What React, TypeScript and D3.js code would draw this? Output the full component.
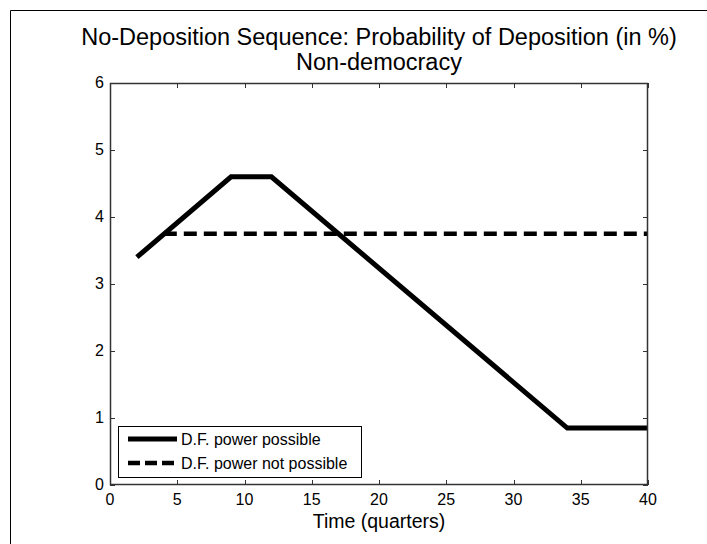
import React, { useEffect, useRef } from 'react';
import * as d3 from 'd3';

// solid series vertices (quarter, %)
const possibleX = [2, 9, 12, 34, 40];
const possibleY = [3.4, 4.6, 4.6, 0.85, 0.85];
// dashed series
const notPossibleX = [4, 40];
const notPossibleY = [3.75, 3.75];

const xTicks = [0, 5, 10, 15, 20, 25, 30, 35, 40];
const yTicks = [0, 1, 2, 3, 4, 5, 6];
const legendLabels = ['D.F. power possible', 'D.F. power not possible'];

const App: React.FC = () => {
    const svgRef = useRef<SVGSVGElement | null>(null);

    useEffect(() => {
        const width = 707;
        const height = 544;
        const margin = { top: 83, right: 59, bottom: 59, left: 110 };
        const font = 'Liberation Sans, Arial, sans-serif';
        const axisColor = '#333';

        const svg = d3.select(svgRef.current)
            .attr('width', width)
            .attr('height', height);
        svg.selectAll('*').remove();

        // outer figure frame
        svg.append('path')
            .attr('d', `M${width},10.5 H10.5 V${height}`)
            .attr('fill', 'none')
            .attr('stroke', '#000')
            .attr('stroke-width', 1);

        const xScale = d3.scaleLinear()
            .domain([0, 40])
            .range([margin.left, width - margin.right]);
        const yScale = d3.scaleLinear()
            .domain([0, 6])
            .range([height - margin.bottom, margin.top]);

        const x0 = xScale(0), x1 = xScale(40), y0 = yScale(0), y1 = yScale(6);

        // ticks on all four sides, pointing inward
        const tickLen = 5;
        const ticks = svg.append('g').attr('stroke', axisColor).attr('stroke-width', 1);
        xTicks.forEach(t => {
            const x = Math.round(xScale(t)) + 0.5;
            ticks.append('line').attr('x1', x).attr('x2', x).attr('y1', y0).attr('y2', y0 - tickLen);
            ticks.append('line').attr('x1', x).attr('x2', x).attr('y1', y1).attr('y2', y1 + tickLen);
        });
        yTicks.forEach(t => {
            const y = Math.round(yScale(t)) + 0.5;
            ticks.append('line').attr('x1', x0).attr('x2', x0 + tickLen).attr('y1', y).attr('y2', y);
            ticks.append('line').attr('x1', x1).attr('x2', x1 - tickLen).attr('y1', y).attr('y2', y);
        });

        // tick labels
        svg.append('g').selectAll('text')
            .data(xTicks)
            .join('text')
            .attr('x', d => xScale(d))
            .attr('y', y0 + 20)
            .attr('text-anchor', 'middle')
            .attr('font-family', font)
            .attr('font-size', 16)
            .attr('fill', '#000')
            .text(d => d);
        svg.append('g').selectAll('text')
            .data(yTicks)
            .join('text')
            .attr('x', x0 - 6)
            .attr('y', d => yScale(d) + 5)
            .attr('text-anchor', 'end')
            .attr('font-family', font)
            .attr('font-size', 16)
            .attr('fill', '#000')
            .text(d => d);

        // lines
        const line = d3.line<[number, number]>()
            .x(d => xScale(d[0]))
            .y(d => yScale(d[1]));

        svg.append('path')
            .datum(notPossibleX.map((x, i) => [x, notPossibleY[i]] as [number, number]))
            .attr('fill', 'none')
            .attr('stroke', '#000')
            .attr('stroke-width', 4.5)
            .attr('stroke-dasharray', '13,7')
            .attr('d', line);

        svg.append('path')
            .datum(possibleX.map((x, i) => [x, possibleY[i]] as [number, number]))
            .attr('fill', 'none')
            .attr('stroke', '#000')
            .attr('stroke-width', 5)
            .attr('stroke-linejoin', 'miter')
            .attr('d', line);

        // plot box
        svg.append('rect')
            .attr('x', x0 + 0.5)
            .attr('y', y1 + 0.5)
            .attr('width', x1 - x0 - 1)
            .attr('height', y0 - y1 - 1)
            .attr('fill', 'none')
            .attr('stroke', axisColor)
            .attr('stroke-width', 1.5);

        // legend
        const lg = svg.append('g').attr('transform', 'translate(118,426)');
        lg.append('rect')
            .attr('x', 0.5).attr('y', 0.5)
            .attr('width', 243).attr('height', 51)
            .attr('fill', '#fff')
            .attr('stroke', '#000')
            .attr('stroke-width', 1);
        legendLabels.forEach((label, i) => {
            const ly = 13 + i * 24;
            lg.append('line')
                .attr('x1', 10).attr('x2', 59)
                .attr('y1', ly).attr('y2', ly)
                .attr('stroke', '#000')
                .attr('stroke-width', i === 0 ? 5 : 4.5)
                .attr('stroke-dasharray', i === 0 ? null : '12,5');
            lg.append('text')
                .attr('x', 63)
                .attr('y', ly + 6)
                .attr('font-family', font)
                .attr('font-size', 16)
                .attr('fill', '#000')
                .text(label);
        });

        // titles
        const cx = (x0 + x1) / 2;
        svg.append('text')
            .attr('x', cx).attr('y', 45)
            .attr('text-anchor', 'middle')
            .attr('font-family', font)
            .attr('font-size', 23.5)
            .attr('fill', '#000')
            .text('No-Deposition Sequence: Probability of Deposition (in %)');
        svg.append('text')
            .attr('x', cx).attr('y', 70)
            .attr('text-anchor', 'middle')
            .attr('font-family', font)
            .attr('font-size', 23.5)
            .attr('fill', '#000')
            .text('Non-democracy');
        svg.append('text')
            .attr('x', cx).attr('y', 528)
            .attr('text-anchor', 'middle')
            .attr('font-family', font)
            .attr('font-size', 19.5)
            .attr('fill', '#000')
            .text('Time (quarters)');
    }, []);

    return <svg ref={svgRef} style={{ position: 'absolute', left: 0, top: 0, display: 'block' }}></svg>;
};

export default App;
